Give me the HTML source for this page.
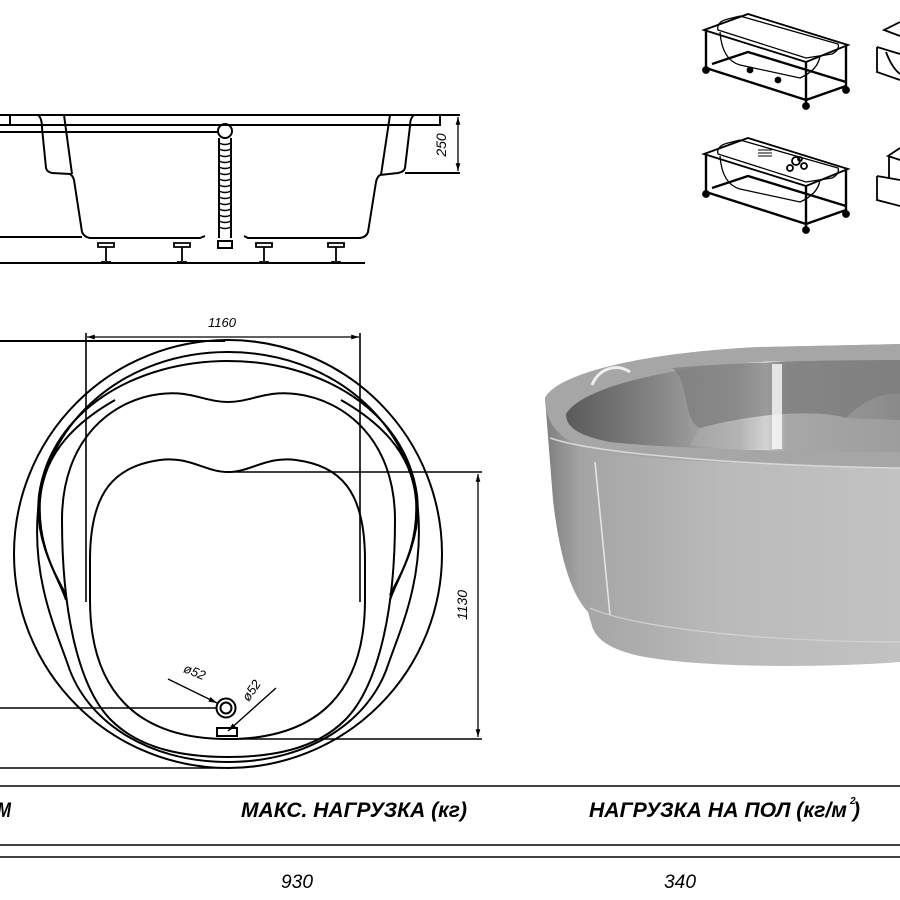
<!DOCTYPE html>
<html><head><meta charset="utf-8"><style>
html,body{margin:0;padding:0;background:#fff;width:900px;height:900px;overflow:hidden}
svg{display:block}
text{font-family:"Liberation Sans",sans-serif;font-style:italic}
</style></head><body>
<svg width="900" height="900" viewBox="0 0 900 900" xmlns="http://www.w3.org/2000/svg">
<defs>
<linearGradient id="wall" x1="0" x2="1" y1="0" y2="0">
<stop offset="0" stop-color="#7e7e7e"/><stop offset="0.1" stop-color="#a4a4a4"/><stop offset="0.5" stop-color="#bababa"/><stop offset="1" stop-color="#c2c2c2"/>
</linearGradient>
<linearGradient id="inner" x1="0" x2="1" y1="0" y2="0">
<stop offset="0" stop-color="#5a5a5a"/><stop offset="0.3" stop-color="#8a8a8a"/><stop offset="0.52" stop-color="#b8b8b8"/><stop offset="0.6" stop-color="#f6f6f6"/><stop offset="0.66" stop-color="#a0a0a0"/><stop offset="1" stop-color="#8a8a8a"/>
</linearGradient>
<marker id="ar" viewBox="0 0 10 10" refX="10" refY="5" markerWidth="8" markerHeight="6" orient="auto-start-reverse"><path d="M0,2 L10,5 L0,8 z" fill="#000"/></marker>
</defs>
<g fill="none" stroke="#000" stroke-width="2">
<!-- side view -->
<line x1="0" y1="115" x2="460" y2="115"/>
<path d="M0,125 H10 V115 M10,125 H440 V115"/>
<line x1="0" y1="132" x2="218" y2="132"/>
<path d="M38,115 Q42,118 42,128 L46,168 Q47,172 52,173 L70,174 Q73,176 74,180 L82,232 Q84,237 90,238 L200,238 L205,236"/>
<path d="M64,115 L72,174"/>
<path d="M414,115 Q410,118 410,126 L405,168 Q404,172 398,173 L380,175 Q377,177 376,182 L368,232 Q366,238 358,238 L248,238 L244,236"/>
<path d="M390,115 L381,175"/>
<line x1="405" y1="173" x2="460" y2="173"/>
<line x1="0" y1="237" x2="82" y2="237"/>
<line x1="0" y1="263" x2="365" y2="263"/>
<line x1="458" y1="117" x2="458" y2="171" marker-start="url(#ar)" marker-end="url(#ar)" stroke-width="1.3"/>
<circle cx="225" cy="131" r="7"/>
<path d="M219,138 V238 M231,138 V238" />
<path d="M219,143 q6,3 12,0 m-12,6 q6,3 12,0 m-12,6 q6,3 12,0 m-12,6 q6,3 12,0 m-12,6 q6,3 12,0 m-12,6 q6,3 12,0 m-12,6 q6,3 12,0 m-12,6 q6,3 12,0 m-12,6 q6,3 12,0 m-12,6 q6,3 12,0 m-12,6 q6,3 12,0 m-12,6 q6,3 12,0 m-12,6 q6,3 12,0 m-12,6 q6,3 12,0 m-12,6 q6,3 12,0" stroke-width="1.4"/>
<rect x="218" y="241" width="14" height="7"/>
<g stroke-width="1.8">
<path d="M98,243 h16 v4 h-16 z M106,247 v14 M101,262 h10"/>
<path d="M174,243 h16 v4 h-16 z M182,247 v14 M177,262 h10"/>
<path d="M256,243 h16 v4 h-16 z M264,247 v14 M259,262 h10"/>
<path d="M328,243 h16 v4 h-16 z M336,247 v14 M331,262 h10"/>
</g>
<!-- plan view -->
<line x1="0" y1="341" x2="225" y2="341"/>
<line x1="86" y1="333" x2="86" y2="602" stroke-width="1.6"/>
<line x1="360" y1="333" x2="360" y2="602" stroke-width="1.6"/>
<line x1="87" y1="337" x2="359" y2="337" marker-start="url(#ar)" marker-end="url(#ar)" stroke-width="1.3"/>
<circle cx="228" cy="554" r="214"/>
<path d="M228,352 C330,352 410,420 418,510 C424,580 400,630 388,665 C370,720 310,762 228,762 C146,762 86,720 68,665 C56,630 32,580 38,510 C46,420 126,352 228,352 Z"/>
<path d="M228,361 C320,361 405,410 417,495 C422,540 400,575 390,595 M66,595 C56,575 34,540 39,495 C51,410 136,361 228,361"/>
<path d="M115,400 C80,420 44,450 40,500 C37,550 60,580 66,600 M341,400 C376,420 412,450 416,500 C419,550 396,580 390,600"/>
<path d="M160,394 C190,390 205,402 228,402 C251,402 266,390 296,394 C345,400 395,440 395,520 C395,620 375,690 345,720 C315,750 270,757 228,757 C186,757 141,750 111,720 C81,690 62,620 62,520 C62,440 111,400 160,394 Z"/>
<path d="M160,460 C190,456 205,472 228,472 C251,472 266,456 296,460 C340,466 365,490 365,560 L365,600 C365,690 320,739 228,739 C136,739 90,690 90,600 L90,560 C90,490 116,466 160,460 Z"/>
<line x1="228" y1="472" x2="482" y2="472" stroke-width="1.5"/>
<line x1="228" y1="739" x2="482" y2="739" stroke-width="1.5"/>
<line x1="478" y1="474" x2="478" y2="737" marker-start="url(#ar)" marker-end="url(#ar)" stroke-width="1.3"/>
<line x1="0" y1="708" x2="216" y2="708" stroke-width="1.6"/>
<line x1="0" y1="768" x2="225" y2="768" stroke-width="1.6"/>
<circle cx="226" cy="708" r="9.5"/><circle cx="226" cy="708" r="5.5"/>
<rect x="217" y="728" width="20" height="8"/>
<line x1="168" y1="679" x2="217" y2="703" marker-end="url(#ar)" stroke-width="1.4"/>
<line x1="276" y1="688" x2="228" y2="731" stroke-width="1.4" marker-end="url(#ar)"/>
<!-- table -->
<line x1="0" y1="786" x2="900" y2="786" stroke-width="1.6"/>
<line x1="0" y1="845" x2="900" y2="845" stroke-width="1.6"/>
<line x1="0" y1="857" x2="900" y2="857" stroke-width="1.6"/>
</g>
<!-- dimension texts -->
<text x="222" y="327" font-size="13" text-anchor="middle">1160</text>
<text transform="translate(446,145) rotate(-90)" font-size="14" text-anchor="middle">250</text>
<text transform="translate(467,605) rotate(-90)" font-size="14" text-anchor="middle">1130</text>
<text transform="translate(193,676) rotate(22)" font-size="13" text-anchor="middle">ø52</text>
<text transform="translate(255,693) rotate(-55)" font-size="13" text-anchor="middle">ø52</text>
<!-- table text -->
<g font-weight="bold" font-size="21">
<text x="-3" y="817" textLength="14" lengthAdjust="spacingAndGlyphs">М</text>
<text x="241" y="817" textLength="226" lengthAdjust="spacingAndGlyphs">МАКС. НАГРУЗКА (кг)</text>
<text x="589" y="817" textLength="258" lengthAdjust="spacingAndGlyphs">НАГРУЗКА НА ПОЛ (кг/м</text>
<text x="850" y="804" font-size="10">2</text>
<text x="853" y="817" textLength="7" lengthAdjust="spacingAndGlyphs">)</text>
</g>
<text x="297" y="888" font-size="19" text-anchor="middle" textLength="32" lengthAdjust="spacingAndGlyphs">930</text>
<text x="680" y="888" font-size="19" text-anchor="middle" textLength="32" lengthAdjust="spacingAndGlyphs">340</text>
<!-- 3D tub -->
<g>
<path d="M545,398 C558,372 650,352 760,347 L900,344 L900,662 C820,668 700,668 640,656 C612,650 596,640 592,626 L588,612 C572,595 560,560 553,500 Z" fill="url(#wall)"/>
<path d="M545,398 C558,372 650,352 760,347 L900,344 L900,468 C800,466 660,462 600,452 C562,444 545,425 545,398 Z" fill="#a6a6a6"/>
<path d="M566,414 C582,386 680,364 780,361 L900,360 L900,452 C800,452 660,448 610,442 C580,436 566,428 566,414 Z" fill="url(#inner)"/>
<path d="M672,368 C690,380 682,420 700,428 C760,412 820,410 846,418 C862,402 880,392 900,394 L900,360 C830,360 740,362 672,368 Z" fill="#7c7c7c" opacity="0.75"/>
<path d="M700,428 C760,412 820,410 846,418 L900,420 L900,452 C800,452 700,448 690,445 Z" fill="#b0b0b0" opacity="0.5"/>
<rect x="772" y="364" width="10" height="85" fill="#fafafa" opacity="0.8"/>
<path d="M592,385 C598,370 615,362 630,372" stroke="#eee" stroke-width="3" fill="none"/>
<path d="M595,462 L610,615" stroke="#e6e6e6" stroke-width="1.5"/>
<path d="M550,438 C600,455 760,466 900,468" stroke="#d8d8d8" stroke-width="1.5" fill="none"/>
<path d="M590,608 C640,630 780,642 900,642" stroke="#d2d2d2" stroke-width="1.2" fill="none"/>
</g>
<!-- thumbnails -->
<g fill="none" stroke="#000" stroke-width="1.8">
<g>
<path d="M704,30 L748,14 L848,45 L806,62 Z"/>
<path d="M718,30 Q716,22 728,19 L740,16 L838,44 Q840,50 832,54 L806,58 Z" stroke-width="1.3"/>
<path d="M720,32 Q722,60 740,65 L800,78 Q818,70 820,56" stroke-width="1.3"/>
<path d="M706,30 V68 M806,62 V105 M846,46 V88 M706,68 L806,100 L846,86 M712,64 L748,52 L846,82" stroke-width="2.4"/>
<circle cx="706" cy="70" r="3" fill="#000"/><circle cx="806" cy="106" r="3" fill="#000"/><circle cx="846" cy="90" r="3" fill="#000"/><circle cx="750" cy="70" r="2.5" fill="#000"/><circle cx="778" cy="80" r="2.5" fill="#000"/>
</g>
<g transform="translate(0,124)">
<path d="M704,30 L748,14 L848,45 L806,62 Z"/>
<path d="M718,30 Q716,22 728,19 L740,16 L838,44 Q840,50 832,54 L806,58 Z" stroke-width="1.3"/>
<path d="M720,32 Q722,60 740,65 L800,78 Q818,70 820,56" stroke-width="1.3"/>
<path d="M706,30 V68 M806,62 V105 M846,46 V88 M706,68 L806,100 L846,86 M712,64 L748,52 L846,82" stroke-width="2.4"/>
<path d="M758,26 h14 M758,29 h14 M758,32 h14" stroke-width="1"/>
<circle cx="796" cy="37" r="4"/><circle cx="804" cy="42" r="3"/><circle cx="790" cy="44" r="3"/><circle cx="800" cy="35" r="2"/>
<circle cx="706" cy="70" r="3" fill="#000"/><circle cx="806" cy="106" r="3" fill="#000"/><circle cx="846" cy="90" r="3" fill="#000"/>
</g>
<path d="M900,22 L884,30 L900,36 M877,47 L900,54 M877,47 V72 L900,80 M886,52 Q892,68 900,74"/>
<path d="M900,148 L888,156 L900,160 M889,156 V178 M877,176 L900,180 M877,176 V200 L900,206"/>
</g>
</svg>
</body></html>
